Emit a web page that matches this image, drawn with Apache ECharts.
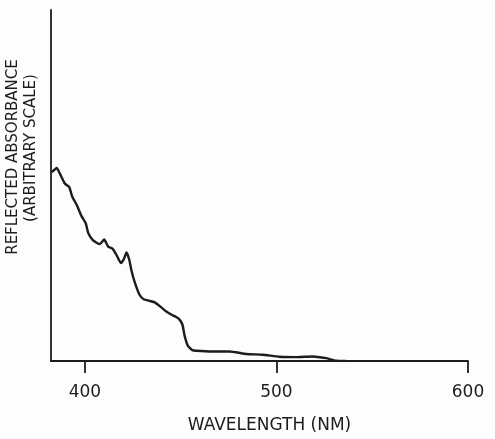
<!DOCTYPE html>
<html>
<head>
<meta charset="utf-8">
<script src="https://cdn.jsdelivr.net/npm/echarts@6/dist/echarts.min.js"></script>
<style>html,body{margin:0;padding:0;background:#fdfdfd;}#c{width:495px;height:439px;}</style>
</head>
<body>
<div id="c"></div>
<script>
// Wavelength (nm) sampled along the trace
const wavelength = [382.7, 385.3, 387.0, 389.6, 391.8, 393.4, 395.7, 398.3, 400.4, 401.7, 404.0, 406.1, 407.8, 410.1, 412.1, 414.4, 416.5, 418.8, 420.3, 421.7, 423.1, 424.3, 426.0, 428.6, 430.7, 433.9, 436.5, 439.4, 442.5, 445.5, 447.4, 449.1, 450.9, 452.1, 453.8, 456.1, 458.2, 466.7, 475.5, 484.2, 492.7, 501.6, 510.3, 518.8, 525.9, 531.1, 536.3];
// Reflected absorbance (arbitrary scale, 0-100)
const absorbance = [53.8, 55.0, 53.3, 50.5, 49.6, 46.8, 44.5, 41.2, 39.3, 36.5, 34.5, 33.7, 33.3, 34.6, 32.6, 32.0, 30.2, 27.9, 29.0, 30.9, 29.0, 25.8, 22.5, 18.8, 17.6, 17.1, 16.7, 15.5, 14.1, 13.1, 12.6, 12.0, 10.4, 7.1, 4.3, 3.1, 2.9, 2.7, 2.7, 2.0, 1.8, 1.2, 1.1, 1.3, 0.8, 0.1, 0.0];
const xTicks = [400, 500, 600];
const xTitle = 'WAVELENGTH (NM)';
const yTitle1 = 'REFLECTED ABSORBANCE';
const yTitle2 = '(ARBITRARY SCALE)';

const points = wavelength.map((w, i) => [w, absorbance[i]]);
const ink = '#1c1c1c';
const chart = echarts.init(document.getElementById('c'), null, {renderer: 'canvas'});
chart.setOption({
  backgroundColor: '#fdfdfd',
  animation: false,
  grid: {left: 51, right: 27, top: 10, bottom: 72},
  xAxis: {
    type: 'value', min: 382.3, max: 600,
    axisLine: {show: true, lineStyle: {color: ink, width: 1.8}},
    axisTick: {show: true, inside: false, length: 12, lineStyle: {color: ink, width: 1.8}, customValues: xTicks},
    axisLabel: {show: true, margin: 23, color: ink, fontFamily: 'DejaVu Sans', fontSize: 17, customValues: xTicks},
    splitLine: {show: false},
    name: xTitle, nameLocation: 'middle', nameGap: 56,
    nameTextStyle: {color: ink, fontFamily: 'DejaVu Sans', fontSize: 17, padding: [0, 0, 0, 20]}
  },
  yAxis: {
    type: 'value', min: 0, max: 100,
    axisLine: {show: true, lineStyle: {color: ink, width: 1.8}},
    axisTick: {show: false}, axisLabel: {show: false}, splitLine: {show: false}
  },
  graphic: [
    {type: 'text', x: 13, y: 157, rotation: Math.PI / 2,
     style: {text: yTitle1, fill: ink, font: '15px "DejaVu Sans"', align: 'center', verticalAlign: 'middle'}},
    {type: 'text', x: 31, y: 148, rotation: Math.PI / 2,
     style: {text: yTitle2, fill: ink, font: '15px "DejaVu Sans"', align: 'center', verticalAlign: 'middle'}}
  ],
  series: [{
    type: 'line', data: points, showSymbol: false, symbol: 'none', smooth: 0.15,
    lineStyle: {color: ink, width: 2.4}
  }]
});
</script>
</body>
</html>
